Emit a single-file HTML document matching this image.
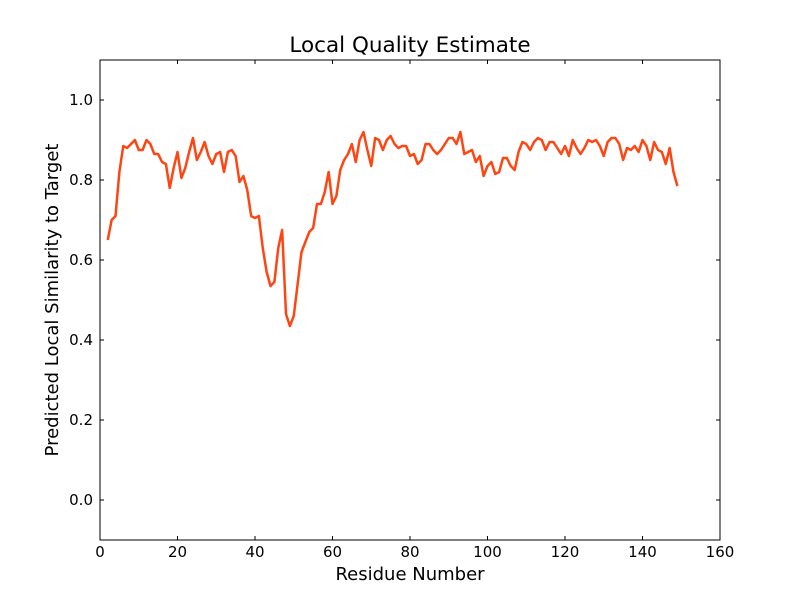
<!DOCTYPE html>
<html><head><meta charset="utf-8"><style>
body{margin:0;background:#fff;}
svg text{font-family:"DejaVu Sans","Liberation Sans",sans-serif;}
</style></head><body>
<svg id="chart" width="800" height="600" xmlns="http://www.w3.org/2000/svg">
<rect width="800" height="600" fill="#fff"/>
<text x="410" y="52" font-size="21.5" text-anchor="middle">Local Quality Estimate</text>
<text x="410" y="580" font-size="18" text-anchor="middle">Residue Number</text>
<text transform="translate(58,300) rotate(-90)" font-size="18" text-anchor="middle">Predicted Local Similarity to Target</text>
<g id="ticks"></g>
<polyline id="series" fill="none" stroke="#ff4511" stroke-width="2.5" stroke-linejoin="round"/>
<rect x="100" y="60" width="620" height="480" fill="none" stroke="#000" stroke-width="1"/>
</svg>
<script>
const residues = [];
for (let r = 2; r <= 149; r++) residues.push(r);
const scores = [.65,.70,.71,.82,.885,.88,.89,.90,.875,.875,.90,.89,.865,.865,.845,.84,.78,.83,.87,.805,.83,.87,.905,.85,.87,.895,.86,.84,.865,.87,.82,.87,.875,.86,.795,.81,.775,.71,.705,.71,.63,.57,.535,.545,.63,.675,.465,.435,.46,.54,.62,.645,.67,.68,.74,.74,.77,.82,.74,.76,.825,.85,.865,.89,.845,.90,.92,.875,.835,.905,.90,.875,.90,.91,.89,.88,.885,.885,.86,.865,.84,.85,.89,.89,.875,.865,.875,.89,.905,.905,.89,.92,.865,.87,.875,.845,.86,.81,.835,.845,.815,.82,.855,.855,.835,.825,.87,.895,.89,.875,.895,.905,.90,.875,.895,.895,.88,.865,.885,.86,.90,.88,.865,.88,.90,.895,.90,.885,.86,.895,.905,.905,.89,.85,.88,.875,.885,.87,.90,.885,.85,.895,.875,.87,.84,.88,.82,.785];
const xTicks = [0,20,40,60,80,100,120,140,160];
const yTicks = [0.0,0.2,0.4,0.6,0.8,1.0];
const X = v => 100 + (v - 0) * 620 / 160;
const Y = v => 540 - (v + 0.1) * 480 / 1.2;
const NS = "http://www.w3.org/2000/svg";
const g = document.getElementById('ticks');
function add(tag, attrs, txt){const e=document.createElementNS(NS,tag);for(const k in attrs)e.setAttribute(k,attrs[k]);if(txt!==undefined)e.textContent=txt;g.appendChild(e);return e;}
xTicks.forEach(t=>{
  const x=X(t);
  const a=add('line',{x1:x,x2:x,y1:540,y2:536,stroke:'#000'});
  
  
  const b=add('line',{x1:x,x2:x,y1:60,y2:64,stroke:'#000'});
  
  
  const l=add('text',{x:x,y:557,'font-size':15,'text-anchor':'middle'},String(t));
  
  
});
yTicks.forEach(t=>{
  const y=Y(t);
  const a=add('line',{x1:100,x2:104,y1:y,y2:y,stroke:'#000'});
  
  
  const b=add('line',{x1:716,x2:720,y1:y,y2:y,stroke:'#000'});
  
  
  const l=add('text',{x:93,y:y+5,'font-size':15,'text-anchor':'end'},t.toFixed(1));
  
  
});
document.getElementById('series').setAttribute('points', residues.map((r,i)=>X(r).toFixed(2)+','+Y(scores[i]).toFixed(2)).join(' '));
</script>
</body></html>
